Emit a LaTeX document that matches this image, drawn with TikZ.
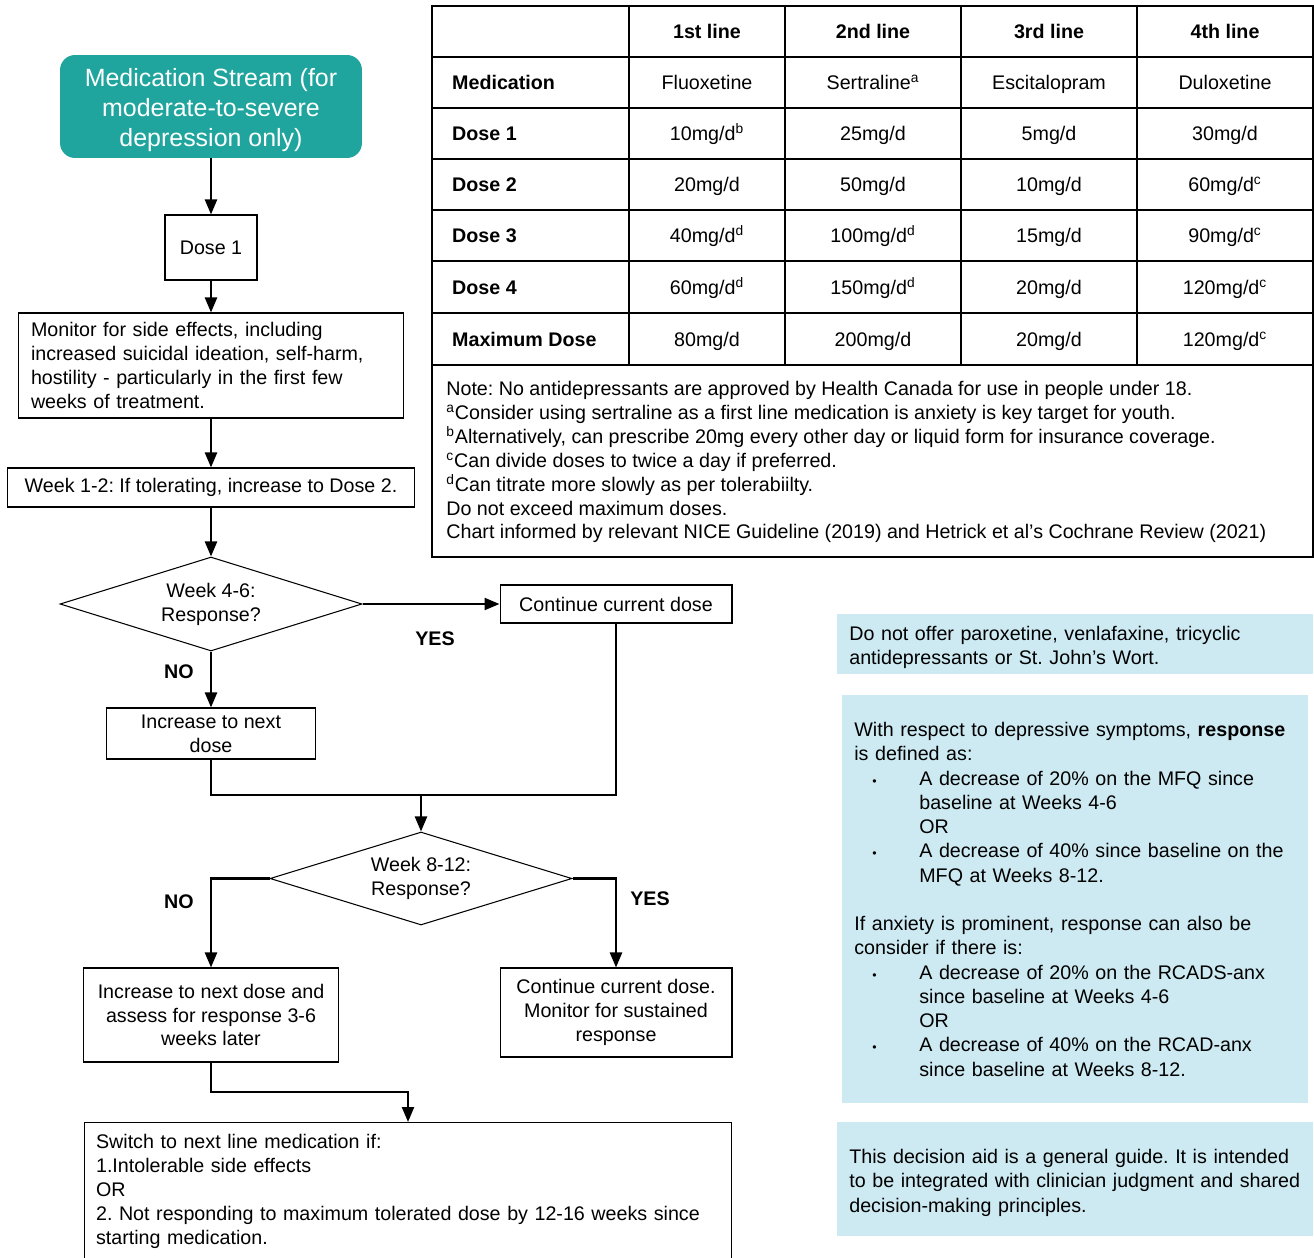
\documentclass[tikz,border=0pt]{standalone}
\usepackage{fontspec}
\setmainfont{Liberation Sans}
\usetikzlibrary{shapes.geometric,arrows.meta}

\definecolor{streamteal}{HTML}{1FA59D}
\definecolor{panelblue}{HTML}{CDEAF2}
\newcommand\supmark[1]{\textsuperscript{#1}}
\newcommand\bulletitem{\hspace*{0.36cm}\makebox[0.94cm][l]{\scriptsize\textbullet}}
\newcommand\bulletcont{\hspace*{1.3cm}}
\frenchspacing

\begin{document}
\begin{tikzpicture}[x=0.02cm,y=-0.02cm,
    font=\fontsize{11.2}{13.6}\selectfont,
    box/.style={draw,line width=0.6pt,inner sep=0pt,align=center},
    decision/.style={draw,diamond,aspect=3.2,line width=0.6pt,inner sep=0pt,align=center,
        minimum width=6.04cm,minimum height=1.88cm},
    flow/.style={line width=1.3pt,-{Triangle[length=0.3cm,width=0.24cm]}},
    flowline/.style={line width=1.3pt},
    tblline/.style={line width=1.1pt},
    tblcell/.style={text height=9pt,text depth=3pt,yshift=-0.04cm},
    tblbold/.style={tblcell,font=\fontsize{11.2}{13.6}\selectfont\bfseries},
    panel/.style={fill=panelblue,anchor=north west,inner xsep=0.24cm,inner ysep=0pt,
        align=left,font=\fontsize{11.2}{13.8}\selectfont},
    answer/.style={font=\fontsize{11.2}{13.6}\selectfont\bfseries}]

        \useasboundingbox (0,0) rectangle (1314,1257);
        \clip (0,0) rectangle (1314,1257);

        % Stream header
        \node[fill=streamteal,rounded corners=0.3cm,inner sep=0pt,
            minimum width=6.04cm,minimum height=2.06cm] (stream) at (211,106.5) {};
        \node[text=white,align=center,font=\fontsize{14.2}{17.1}\selectfont] (streamtext) at (211,110)
            {Medication Stream (for\\moderate-to-severe\\depression only)};

        % Start of treatment
        \node[box,minimum width=1.84cm,minimum height=1.3cm] (dose1) at (211,247.5) {Dose 1};
        \node[box,align=left,text width=7.2cm,inner xsep=0.26cm,minimum height=2.1cm] (monitor) at (211,365.5)
            {Monitor for side effects, including\\increased suicidal ideation, self-harm,\\hostility - particularly in the first few\\weeks of treatment.};
        \node[box,minimum width=8.16cm,minimum height=0.78cm] (week12) at (211,487.5)
            {Week 1-2: If tolerating, increase to Dose 2.};

        % First check
        \node[decision] (resp1) at (211,604) {Week 4-6:\\Response?};
        \node[box,minimum width=4.64cm,minimum height=0.76cm] (cont1) at (616,604) {Continue current dose};
        \node[box,minimum width=4.18cm,minimum height=1.02cm] (incr1) at (211,733.5) {Increase to next\\dose};
        \coordinate (join) at (421,795);

        % Second check
        \node[decision,minimum height=1.86cm] (resp2) at (421,878.5) {Week 8-12:\\Response?};
        \node[box,minimum width=5.1cm,minimum height=1.88cm] (incr2) at (211,1015)
            {Increase to next dose and\\assess for response 3-6\\weeks later};
        \node[box,minimum width=4.64cm,minimum height=1.78cm] (cont2) at (616,1012.5)
            {Continue current dose.\\Monitor for sustained\\response};
        \coordinate (bend) at (408,1092);
        \node[box,anchor=north,align=left,text width=12.48cm,inner xsep=0.24cm,inner ysep=0.24cm] (switch) at (408,1122)
            {Switch to next line medication if:\\1.Intolerable side effects\\OR\\2. Not responding to maximum tolerated dose by 12-16 weeks since\\starting medication.};

        % Flow arrows
        \draw[flow] (stream) -- (dose1);
        \draw[flow] (dose1) -- (monitor);
        \draw[flow] (monitor) -- (week12);
        \draw[flow] (week12) -- (resp1);
        \draw[flow] (resp1.east) -- (cont1.west);
        \draw[flow] (resp1.south) -- (incr1.north);
        \draw[flowline] (incr1.south) |- (join) -| (cont1.south);
        \draw[flow] (join) -- (resp2.north);
        \draw[flow] (resp2.west) -| (incr2.north);
        \draw[flow] (resp2.east) -| (cont2.north);
        \draw[flow] (incr2.south) |- (bend) -- (switch.north);

        % Answers
        \node[answer] (yes1) at (435,639) {YES};
        \node[answer] (no1) at (179,672) {NO};
        \node[answer] (no2) at (179,902) {NO};
        \node[answer] (yes2) at (650,899) {YES};

        % Dose table
        \draw[tblline] (432,6) rectangle (1313,557);
        \foreach \y in {57,108,159,210,261,313,365}
            \draw[tblline] (432,\y) -- (1313,\y);
        \foreach \x in {629,785,961,1137}
            \draw[tblline] (\x,6) -- (\x,365);
        \foreach \cx/\txt [count=\c] in {707/1st line,873/2nd line,1049/3rd line,1225/4th line}
            \node[tblbold] (head\c) at (\cx,31.5) {\txt};
        \foreach \ry/\lbl/\va/\vb/\vc/\vd [count=\r] in {
                82.5/Medication/Fluoxetine/Sertraline\supmark{a}/Escitalopram/Duloxetine,
                133.5/Dose 1/{10mg/d\supmark{b}}/{25mg/d}/{5mg/d}/{30mg/d},
                184.5/Dose 2/{20mg/d}/{50mg/d}/{10mg/d}/{60mg/d\supmark{c}},
                235.5/Dose 3/{40mg/d\supmark{d}}/{100mg/d\supmark{d}}/{15mg/d}/{90mg/d\supmark{c}},
                287/Dose 4/{60mg/d\supmark{d}}/{150mg/d\supmark{d}}/{20mg/d}/{120mg/d\supmark{c}},
                339/Maximum Dose/{80mg/d}/{200mg/d}/{20mg/d}/{120mg/d\supmark{c}}}{
            \node[tblbold,anchor=west] (row\r) at (446,\ry) {\lbl};
            \node[tblcell] (cell\r a) at (707,\ry) {\va};
            \node[tblcell] (cell\r b) at (873,\ry) {\vb};
            \node[tblcell] (cell\r c) at (1049,\ry) {\vc};
            \node[tblcell] (cell\r d) at (1225,\ry) {\vd};
        }
        \node[anchor=north west,inner sep=0pt,align=left] (tblnote) at (446,381)
            {Note: No antidepressants are approved by Health Canada for use in people under 18.\\
             \supmark{a}Consider using sertraline as a first line medication is anxiety is key target for youth.\\
             \supmark{b}Alternatively, can prescribe 20mg every other day or liquid form for insurance coverage.\\
             \supmark{c}Can divide doses to twice a day if preferred.\\
             \supmark{d}Can titrate more slowly as per tolerabiilty.\\
             Do not exceed maximum doses.\\
             Chart informed by relevant NICE Guideline (2019) and Hetrick et al's Cochrane Review (2021)};

        % Side panels
        \node[panel,minimum width=9.52cm,minimum height=1.2cm,text width=9.04cm] (avoid) at (837,614)
            {\rule{0pt}{12pt}Do not offer paroxetine, venlafaxine, tricyclic\\antidepressants or St. John's Wort.};
        \node[panel,minimum width=9.32cm,minimum height=8.16cm,text width=8.84cm] (define) at (842,695)
            {With respect to depressive symptoms, \textbf{response}\\
             is defined as:\\
             \bulletitem A decrease of 20\% on the MFQ since\\
             \bulletcont baseline at Weeks 4-6\\
             \bulletcont OR\\
             \bulletitem A decrease of 40\% since baseline on the\\
             \bulletcont MFQ at Weeks 8-12.\\[13.8pt]
             If anxiety is prominent, response can also be\\
             consider if there is:\\
             \bulletitem A decrease of 20\% on the RCADS-anx\\
             \bulletcont since baseline at Weeks 4-6\\
             \bulletcont OR\\
             \bulletitem A decrease of 40\% on the RCAD-anx\\
             \bulletcont since baseline at Weeks 8-12.};
        \node[panel,minimum width=9.52cm,minimum height=2.28cm,text width=9.04cm] (guide) at (837,1122)
            {\rule{0pt}{12pt}This decision aid is a general guide. It is intended\\to be integrated with clinician judgment and shared\\decision-making principles.};
    \end{tikzpicture}
\end{document}
